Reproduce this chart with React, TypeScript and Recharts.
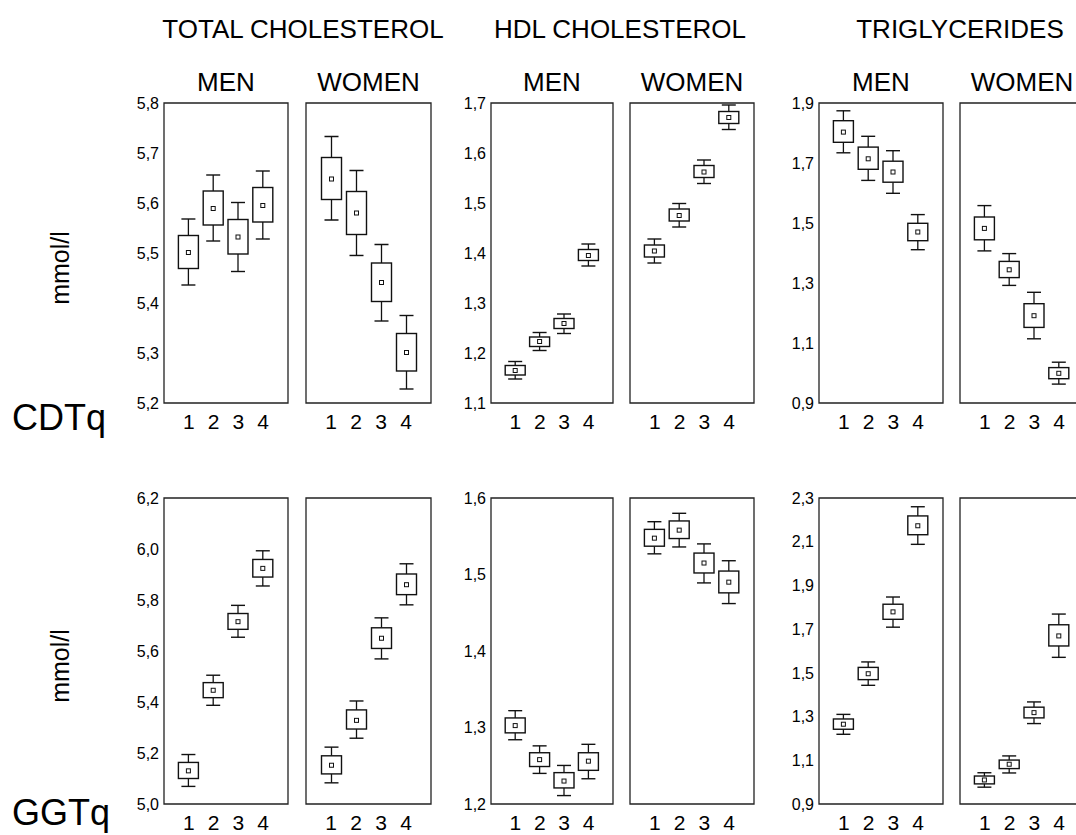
import React from "react";
import {
  ComposedChart,
  Bar,
  XAxis,
  YAxis,
  ReferenceArea,
} from "recharts";

// quartile groups on the x axis
const quartiles = [1, 2, 3, 4];

// each entry: [whiskerLow, boxLow, mean, boxHigh, whiskerHigh]
const cdtTcMen = [[5.436, 5.469, 5.501, 5.535, 5.568], [5.524, 5.556, 5.589, 5.624, 5.656], [5.463, 5.498, 5.532, 5.567, 5.601], [5.528, 5.562, 5.595, 5.631, 5.664]];
const cdtTcWomen = [[5.566, 5.607, 5.648, 5.691, 5.733], [5.495, 5.537, 5.58, 5.623, 5.665], [5.364, 5.403, 5.441, 5.48, 5.517], [5.228, 5.264, 5.301, 5.339, 5.375]];
const cdtHdlMen = [[1.148, 1.156, 1.165, 1.175, 1.183], [1.205, 1.213, 1.223, 1.232, 1.241], [1.239, 1.249, 1.259, 1.269, 1.278], [1.374, 1.385, 1.395, 1.407, 1.418]];
const cdtHdlWomen = [[1.38, 1.392, 1.404, 1.416, 1.428], [1.452, 1.464, 1.475, 1.488, 1.499], [1.539, 1.551, 1.562, 1.575, 1.586], [1.647, 1.659, 1.671, 1.683, 1.696]];
const cdtTgMen = [[1.734, 1.769, 1.803, 1.841, 1.874], [1.642, 1.679, 1.714, 1.753, 1.789], [1.599, 1.636, 1.67, 1.706, 1.741], [1.411, 1.441, 1.47, 1.499, 1.528]];
const cdtTgWomen = [[1.407, 1.444, 1.482, 1.52, 1.558], [1.292, 1.318, 1.344, 1.372, 1.398], [1.114, 1.152, 1.191, 1.231, 1.269], [0.963, 0.981, 0.999, 1.018, 1.036]];

const ggtTcMen = [[5.069, 5.1, 5.13, 5.163, 5.194], [5.387, 5.417, 5.446, 5.476, 5.505], [5.654, 5.685, 5.715, 5.747, 5.779], [5.855, 5.89, 5.924, 5.959, 5.993]];
const ggtTcWomen = [[5.083, 5.118, 5.152, 5.189, 5.223], [5.258, 5.294, 5.328, 5.369, 5.404], [5.569, 5.61, 5.65, 5.691, 5.73], [5.781, 5.821, 5.86, 5.902, 5.942]];
const ggtHdlMen = [[1.284, 1.293, 1.3025, 1.3125, 1.322], [1.24, 1.249, 1.258, 1.267, 1.276], [1.211, 1.221, 1.23, 1.241, 1.2504], [1.233, 1.244, 1.256, 1.267, 1.278]];
const ggtHdlWomen = [[1.527, 1.537, 1.5475, 1.559, 1.569], [1.536, 1.547, 1.558, 1.57, 1.58], [1.489, 1.502, 1.515, 1.528, 1.54], [1.462, 1.476, 1.49, 1.5045, 1.518]];
const ggtTgMen = [[1.219, 1.242, 1.265, 1.289, 1.31], [1.443, 1.469, 1.496, 1.525, 1.55], [1.709, 1.745, 1.779, 1.814, 1.847], [2.088, 2.132, 2.173, 2.218, 2.26]];
const ggtTgWomen = [[0.977, 0.992, 1.01, 1.028, 1.043], [1.042, 1.062, 1.082, 1.101, 1.12], [1.268, 1.294, 1.318, 1.343, 1.367], [1.571, 1.623, 1.669, 1.72, 1.769]];

// y tick labels per panel
const cdtTcTicks = [5.2, 5.3, 5.4, 5.5, 5.6, 5.7, 5.8];
const cdtHdlTicks = [1.1, 1.2, 1.3, 1.4, 1.5, 1.6, 1.7];
const cdtTgTicks = [0.9, 1.1, 1.3, 1.5, 1.7, 1.9];
const ggtTcTicks = [5.0, 5.2, 5.4, 5.6, 5.8, 6.0, 6.2];
const ggtHdlTicks = [1.2, 1.3, 1.4, 1.5, 1.6];
const ggtTgTicks = [0.9, 1.1, 1.3, 1.5, 1.7, 1.9, 2.1, 2.3];

const titles = ["TOTAL CHOLESTEROL", "HDL CHOLESTEROL", "TRIGLYCERIDES"];
const sexes = ["MEN", "WOMEN"];
const rowLabels = ["CDTq", "GGTq"];

// layout
const ROW_TOP = [103, 498];
const ROW_H = [300, 306];
const COL_LEFT = [164, 306, 491, 630, 819, 960];
const COL_W = [124, 125, 122, 124, 124, 124];
const TITLE_X = [303, 620, 960];
const PAD_L = 50;
const PAD_T = 10;
const PAD_R = 10;
const PAD_B = 40;
const FONT = "'Liberation Sans', Arial, Helvetica, sans-serif";

const panels = [
  { row: 0, col: 0, stats: cdtTcMen, ticks: cdtTcTicks },
  { row: 0, col: 1, stats: cdtTcWomen, ticks: cdtTcTicks },
  { row: 0, col: 2, stats: cdtHdlMen, ticks: cdtHdlTicks },
  { row: 0, col: 3, stats: cdtHdlWomen, ticks: cdtHdlTicks },
  { row: 0, col: 4, stats: cdtTgMen, ticks: cdtTgTicks },
  { row: 0, col: 5, stats: cdtTgWomen, ticks: cdtTgTicks },
  { row: 1, col: 0, stats: ggtTcMen, ticks: ggtTcTicks },
  { row: 1, col: 1, stats: ggtTcWomen, ticks: ggtTcTicks },
  { row: 1, col: 2, stats: ggtHdlMen, ticks: ggtHdlTicks },
  { row: 1, col: 3, stats: ggtHdlWomen, ticks: ggtHdlTicks },
  { row: 1, col: 4, stats: ggtTgMen, ticks: ggtTgTicks },
  { row: 1, col: 5, stats: ggtTgWomen, ticks: ggtTgTicks },
];

const fmt = (v: number) => v.toFixed(1).replace(".", ",");

// box + whiskers drawn from the bar's pixel extent (whisker range)
const BoxShape = (props: any) => {
  const { x, y, width, height, payload } = props;
  if (!payload || height == null) return null;
  const [lo, hi] = payload.range;
  const top = Math.min(y, y + height);
  const h = Math.abs(height);
  const py = (v: number) => top + ((hi - v) / (hi - lo)) * h;
  const cx = x + width / 2;
  const bTop = py(payload.boxHigh);
  const bBot = py(payload.boxLow);
  const my = py(payload.mean);
  const cap = 7;
  const s = "#111";
  return (
    <g>
      <line x1={cx} x2={cx} y1={top} y2={bTop} stroke={s} strokeWidth={1.3} />
      <line x1={cx} x2={cx} y1={bBot} y2={top + h} stroke={s} strokeWidth={1.3} />
      <line x1={cx - cap} x2={cx + cap} y1={top} y2={top} stroke={s} strokeWidth={1.4} />
      <line x1={cx - cap} x2={cx + cap} y1={top + h} y2={top + h} stroke={s} strokeWidth={1.4} />
      <rect x={x} y={bTop} width={width} height={bBot - bTop} fill="#fff" stroke={s} strokeWidth={1.4} />
      <rect x={cx - 2} y={my - 2} width={4} height={4} fill="#fff" stroke={s} strokeWidth={1} />
    </g>
  );
};

const Panel = ({ row, col, stats, ticks }: any) => {
  const data = quartiles.map((q, i) => ({
    q,
    range: [stats[i][0], stats[i][4]],
    boxLow: stats[i][1],
    mean: stats[i][2],
    boxHigh: stats[i][3],
  }));
  const showY = col % 2 === 0;
  const w = COL_W[col];
  const h = ROW_H[row];
  const yMin = ticks[0];
  const yMax = ticks[ticks.length - 1];
  return (
    <div
      style={{
        position: "absolute",
        left: COL_LEFT[col] - PAD_L,
        top: ROW_TOP[row] - PAD_T,
      }}
    >
      <ComposedChart
        width={PAD_L + w + PAD_R}
        height={PAD_T + h + PAD_B}
        data={data}
        margin={{ top: PAD_T, right: PAD_R, left: 0, bottom: 0 }}
      >
        <XAxis
          dataKey="q"
          type="number"
          domain={[0, 5]}
          ticks={quartiles}
          interval={0}
          axisLine={false}
          tickLine={false}
          tickSize={9}
          height={PAD_B}
          tick={{ fontSize: 21, fill: "#000", fontFamily: FONT }}
        />
        <YAxis
          type="number"
          domain={[yMin, yMax]}
          ticks={ticks}
          interval={0}
          allowDataOverflow
          axisLine={false}
          tickLine={false}
          tickSize={3}
          width={PAD_L}
          tickFormatter={fmt}
          tick={showY ? { fontSize: 16, fill: "#000", fontFamily: FONT } : false}
        />
        <ReferenceArea
          x1={0}
          x2={5}
          y1={yMin}
          y2={yMax}
          fill="none"
          stroke="#222"
          strokeWidth={1.3}
          ifOverflow="visible"
        />
        <Bar
          dataKey="range"
          barSize={20}
          shape={BoxShape}
          isAnimationActive={false}
        />
      </ComposedChart>
    </div>
  );
};

const textStyle = (size: number): React.CSSProperties => ({
  position: "absolute",
  fontFamily: FONT,
  fontSize: size,
  lineHeight: 1,
  color: "#000",
  whiteSpace: "nowrap",
});

export default function App() {
  return (
    <div
      style={{
        position: "absolute",
        left: 0,
        top: 0,
        width: 1076,
        height: 835,
        overflow: "hidden",
        background: "#fff",
      }}
    >
      {titles.map((t, i) => (
        <div key={t} style={{ ...textStyle(26), left: TITLE_X[i], top: 16, transform: "translateX(-50%)" }}>
          {t}
        </div>
      ))}
      {COL_LEFT.map((l, c) => (
        <div
          key={"sex" + c}
          style={{ ...textStyle(26), left: l + COL_W[c] / 2, top: 69, transform: "translateX(-50%)" }}
        >
          {sexes[c % 2]}
        </div>
      ))}
      {rowLabels.map((t, r) => (
        <div key={t} style={{ ...textStyle(36), left: 12, top: 400 + r * 395 }}>
          {t}
        </div>
      ))}
      {ROW_TOP.map((t, r) => (
        <div
          key={"unit" + r}
          style={{
            ...textStyle(25),
            left: 60,
            top: t + ROW_H[r] / 2 + 15,
            transform: "translate(-50%, -50%) rotate(-90deg)",
          }}
        >
          mmol/l
        </div>
      ))}
      {panels.map((p, i) => (
        <Panel key={i} {...p} />
      ))}
    </div>
  );
}
